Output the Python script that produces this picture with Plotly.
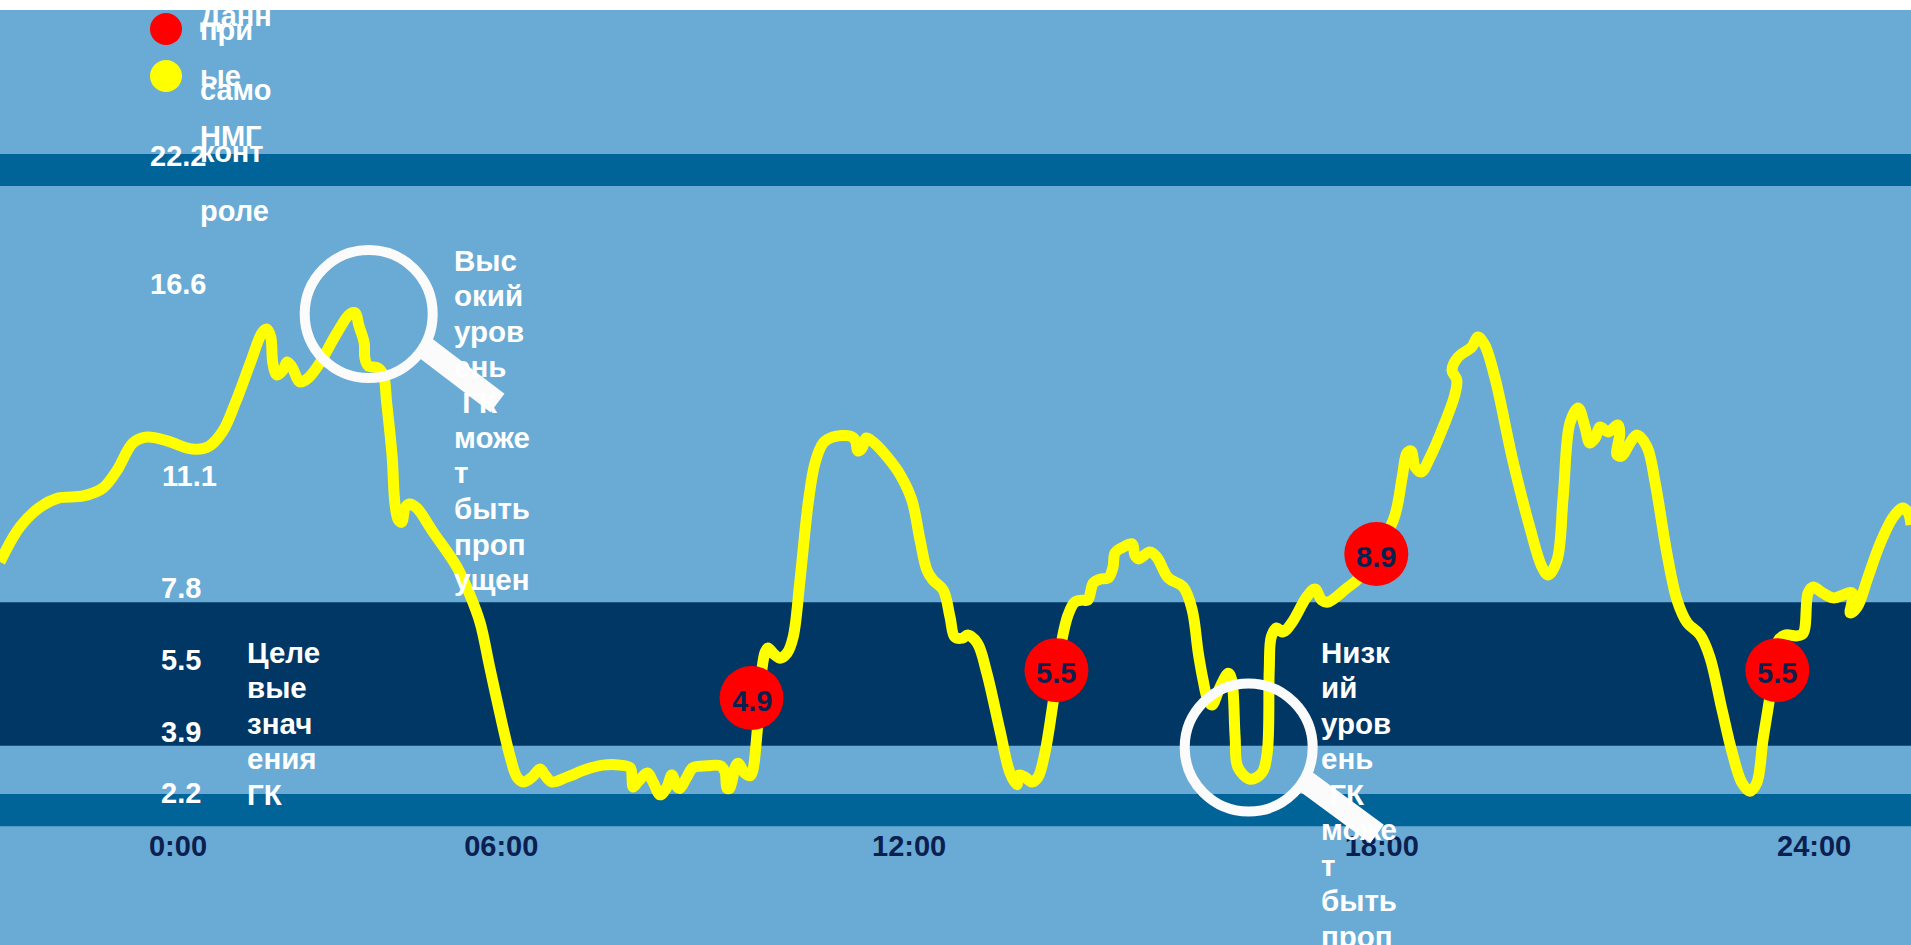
import math
import plotly.graph_objects as go

W, H = 1911, 945

# Continuous glucose trace: hours on the x axis, mmol/L on a log y axis
sensor_hours = [
    -2.61,-2.32,-2.02,-1.76,-1.39,-1.10,-0.89,-0.66,-0.45,-0.16,0.21,0.44,0.65,0.84,1.06,1.23,1.30,1.36,1.39,1.45,
    1.54,1.60,1.67,1.79,1.91,2.08,2.33,2.52,2.60,2.65,2.73,2.74,2.79,2.93,3.01,3.06,3.14,3.18,3.23,3.28,
    3.33,3.39,3.50,3.74,4.09,4.28,4.43,4.57,4.75,4.87,4.97,5.06,5.19,5.31,5.38,5.48,5.70,6.00,6.23,6.48,
    6.63,6.66,6.67,6.77,6.88,6.97,7.07,7.17,7.24,7.32,7.36,7.46,7.55,7.76,7.95,8.02,8.05,8.09,8.17,8.21,
    8.31,8.39,8.43,8.49,8.56,8.61,8.65,8.75,8.83,8.93,9.02,9.12,9.24,9.34,9.46,9.60,9.85,9.93,9.97,10.03,
    10.09,10.19,10.40,10.59,10.76,10.88,10.98,11.07,11.22,11.32,11.39,11.50,11.58,11.72,11.86,12.05,12.20,12.30,12.33,12.42,
    12.52,12.61,12.71,12.83,12.96,13.05,13.15,13.26,13.34,13.42,13.52,13.64,13.71,13.74,13.86,13.99,14.03,14.08,14.25,14.35,
    14.52,14.74,14.87,14.96,15.03,15.10,15.16,15.28,15.40,15.45,15.50,15.54,15.72,15.89,15.97,16.00,16.03,16.11,16.20,16.33,
    16.55,16.67,16.77,16.86,17.14,17.33,17.82,17.95,18.02,18.08,18.14,18.23,18.36,18.55,18.72,18.75,18.68,18.77,18.97,19.06,
    19.16,19.31,19.57,19.82,20.00,20.09,20.22,20.31,20.41,20.53,20.63,20.70,20.78,20.85,20.97,21.11,21.14,21.10,21.17,21.29,
    21.39,21.54,21.66,21.83,21.98,22.13,22.32,22.46,22.64,22.79,22.93,23.05,23.15,23.24,23.34,23.45,23.56,23.74,23.83,23.90,
    23.97,24.12,24.27,24.55,24.52,24.62,24.78,24.96,25.15,25.29,25.37,25.41]
sensor_glucose = [
    8.61,9.95,10.81,11.22,11.32,11.70,12.61,14.10,14.45,14.22,13.75,13.87,14.76,16.64,19.64,22.24,22.61,21.87,19.64,18.69,
    19.08,19.72,19.32,18.15,18.46,19.64,22.24,24.06,24.16,22.99,21.34,20.05,19.40,19.24,18.69,16.64,13.30,10.99,10.25,10.16,
    10.77,10.95,10.77,9.75,8.43,7.51,6.69,5.57,4.42,3.84,3.53,3.46,3.53,3.65,3.56,3.46,3.53,3.65,3.71,3.71,
    3.67,3.46,3.39,3.49,3.59,3.45,3.28,3.39,3.56,3.39,3.37,3.53,3.67,3.70,3.70,3.61,3.37,3.37,3.68,3.74,
    3.59,3.55,3.64,4.24,5.50,5.93,6.03,5.86,5.78,5.90,6.31,7.99,10.99,12.98,14.10,14.45,14.51,14.27,13.64,13.81,
    14.39,14.16,13.30,12.35,11.13,9.43,8.33,7.99,7.67,6.85,6.31,6.28,6.36,6.15,5.43,4.29,3.59,3.42,3.56,3.53,
    3.46,3.53,3.90,4.80,6.23,6.91,7.29,7.35,7.35,7.89,8.02,8.06,8.43,8.94,9.16,9.28,8.86,8.72,8.97,8.79,
    8.06,7.76,7.06,5.90,5.28,4.86,4.76,5.13,5.43,5.28,4.17,3.68,3.50,3.59,3.90,5.50,6.31,6.55,6.44,6.69,
    7.45,7.70,7.35,7.29,7.73,8.09,10.25,12.24,13.53,13.64,12.76,12.50,13.30,15.06,17.20,18.30,19.08,20.13,20.99,21.87,
    21.16,18.46,13.14,9.95,8.43,8.16,8.68,11.27,15.32,16.30,15.06,14.10,14.39,15.06,14.76,15.19,14.69,13.41,13.36,14.10,
    14.57,13.87,11.94,8.94,7.35,6.69,6.36,5.81,4.66,3.90,3.45,3.33,3.45,4.12,4.92,6.18,6.36,6.34,6.41,7.57,
    7.76,7.57,7.42,7.57,6.97,7.14,8.09,9.31,10.37,10.77,10.55,10.04]

# Finger-stick readings shown as labelled red dots
finger_hours = [8.41, 12.88, 17.57, 23.45]
finger_glucose = [4.9, 5.5, 8.9, 5.5]

x_tick_hours = [0, 4.74, 10.72, 17.65, 23.99]
x_tick_labels = ["0:00", "06:00", "12:00", "18:00", "24:00"]
y_tick_labels = ["22.2", "16.6", "11.1", "7.8", "5.5", "3.9", "2.2"]

high_note = ["Выс", "окий", "уров", "ень", "\u00a0ГК", "може", "т", "быть", "проп", "ущен"]
low_note = ["Низк", "ий", "уров", "ень", "\u00a0ГК", "може", "т", "быть", "проп", "ущен"]
target_note = ["Целе", "вые", "знач", "ения", "ГК"]
legend_sensor = ["Данн", "ые", "НМГ"]
legend_finger = ["при", "само", "конт", "роле"]

# Upper/lower bounds of the horizontal bands, in mmol/L
band_edges = [(40.9, 46.7, "#006498"), (4.02, 7.29, "#003764"), (2.88, 3.29, "#006498")]

FONT = "Liberation Sans"
NAVY = "#0c2050"


def from_top(px):
    return 1 - px / H


fig = go.Figure()
fig.add_trace(go.Scatter(
    x=sensor_hours, y=sensor_glucose, mode="lines",
    line=dict(color="#ffff00", width=11, shape="spline", smoothing=1.0),
    showlegend=False))
fig.add_trace(go.Scatter(
    x=finger_hours, y=finger_glucose, mode="markers",
    marker=dict(color="#ff0000", size=64),
    showlegend=False))

shapes = []
for low, high, colour in band_edges:
    shapes.append(dict(type="rect", xref="paper", yref="y", x0=0, x1=1,
                       y0=low, y1=high,
                       fillcolor=colour, line_width=0, layer="below"))

# Magnifying glasses: ring plus handle
for cx, cy in [(368.7, 314), (1248.7, 747.5)]:
    shapes.append(dict(type="circle", xref="paper", yref="paper",
                       x0=(cx - 64) / W, x1=(cx + 64) / W,
                       y0=from_top(cy + 64), y1=from_top(cy - 64),
                       line=dict(color="#fbfbfb", width=10)))
for x0, y0, x1, y1 in [(424, 347, 497.5, 403), (1305, 781, 1377, 834)]:
    shapes.append(dict(type="line", xref="paper", yref="paper",
                       x0=x0 / W, x1=x1 / W, y0=from_top(y0), y1=from_top(y1),
                       line=dict(color="#fbfbfb", width=23)))

# Legend keys
for colour, cy in [("#ff0000", 29), ("#ffff00", 76)]:
    shapes.append(dict(type="circle", xref="paper", yref="paper",
                       x0=150 / W, x1=182 / W,
                       y0=from_top(cy + 16), y1=from_top(cy - 16),
                       fillcolor=colour, line_width=0))

annotations = []


def label(text, x, y, size=29):
    annotations.append(dict(
        text=text, xref="paper", yref="paper", x=x / W, y=from_top(y),
        xanchor="left", yanchor="middle", align="left", showarrow=False, borderpad=0,
        font=dict(family=FONT, size=size, weight=700, color="#ffffff")))


def note(lines, x, first_y):
    # Wrapped callouts keep a tighter leading than the default line spacing
    for i, line in enumerate(lines):
        label(line, x, first_y + i * 35.5, size=29.5)


for text, x, y in zip(y_tick_labels,
                      [149, 149, 161, 160, 160, 160, 160],
                      [156, 284, 476, 588, 660, 732, 793]):
    label(text, x, y)
for text, y in zip(legend_sensor, [16, 76, 136]):
    label(text, 199, y)
for text, y in zip(legend_finger, [30, 90, 152, 211]):
    label(text, 199, y)
note(high_note, 453, 260)
note(low_note, 1320, 652)
note(target_note, 246, 652)

# Value labels sit slightly below the centre of each dot
for h, v in zip(finger_hours, finger_glucose):
    annotations.append(dict(
        text=f"{v:.1f}", x=h, y=math.log10(v), xref="x", yref="y",
        showarrow=False, yshift=-3, borderpad=0,
        font=dict(family=FONT, size=29, weight=700, color=NAVY)))

fig.update_layout(
    width=W, height=H, margin=dict(l=0, r=0, t=0, b=0),
    paper_bgcolor="#ffffff", plot_bgcolor="#69abd5",
    shapes=shapes, annotations=annotations, showlegend=False,
    xaxis=dict(range=[-2.61, 25.41], showgrid=False, zeroline=False, showline=False,
               anchor="free", position=from_top(826),
               tickmode="array", tickvals=x_tick_hours, ticktext=x_tick_labels, ticks="",
               tickfont=dict(family=FONT, size=29, weight=700, color=NAVY)),
    yaxis=dict(type="log", range=[0.24565, 1.92846], domain=[0, 1 - 10 / H],
               visible=False, showgrid=False, zeroline=False))
fig.write_html("out.html")
